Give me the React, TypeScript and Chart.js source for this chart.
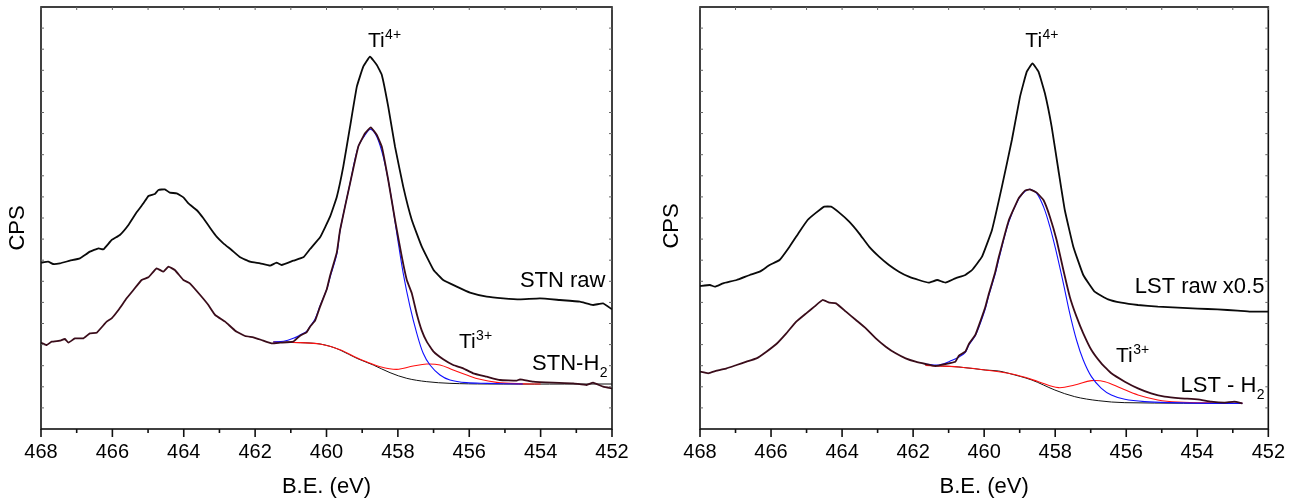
import React, { useEffect, useRef } from "react";
import { Chart, registerables } from "chart.js";

Chart.register(...registerables);

type Pt = [number, number];

// Binding energy axis (eV), reversed as in XPS
const X_MIN = 452;
const X_MAX = 468;
const X_TICK_STEP = 2;
// CPS axis (arbitrary counts, no labels)
const Y_MIN = 0;
const Y_MAX = 1266;
const Y_MINOR_DIVS = 20;

// ---------------- STN (left panel) ----------------
const STN_RAW: Pt[] = [
  [468.0, 499], [467.8, 502], [467.66, 495], [467.47, 497], [467.19, 505], [466.91, 512],
  [466.63, 532], [466.39, 542], [466.25, 539], [466.02, 567], [465.79, 582], [465.55, 612],
  [465.32, 650], [465.13, 677], [464.99, 699], [464.81, 705], [464.71, 717], [464.53, 719],
  [464.39, 709], [464.2, 707], [464.01, 695], [463.87, 677], [463.64, 657], [463.45, 632],
  [463.22, 597], [463.08, 577], [462.89, 557], [462.66, 537], [462.42, 515], [462.14, 502],
  [461.86, 497], [461.58, 490], [461.4, 499], [461.26, 492], [460.93, 505], [460.65, 515],
  [460.46, 540], [460.18, 575], [459.9, 637], [459.71, 697], [459.53, 787], [459.34, 907],
  [459.15, 1027], [458.97, 1087], [458.78, 1117], [458.59, 1092], [458.45, 1062], [458.27, 967],
  [458.08, 847], [457.85, 727], [457.61, 627], [457.33, 547], [457.0, 477], [456.73, 447],
  [456.35, 427], [455.98, 409], [455.51, 397], [455.05, 392], [454.58, 389], [454.02, 392],
  [453.46, 387], [452.9, 382], [452.53, 372], [452.25, 377], [452.0, 359],
];

const STN_H2: Pt[] = [
  [468.0, 259], [467.84, 252], [467.7, 262], [467.47, 265], [467.33, 270], [467.23, 259],
  [467.05, 272], [466.81, 272], [466.63, 287], [466.44, 289], [466.16, 322], [466.02, 332],
  [465.83, 357], [465.6, 392], [465.41, 417], [465.18, 447], [464.99, 455], [464.76, 482],
  [464.57, 472], [464.43, 487], [464.25, 477], [464.01, 447], [463.83, 437], [463.54, 402],
  [463.31, 372], [463.12, 342], [462.84, 322], [462.56, 295], [462.28, 279], [462.05, 275],
  [461.82, 267], [461.54, 257], [461.3, 259], [460.93, 262], [460.74, 280], [460.56, 290],
  [460.46, 307], [460.32, 325], [460.18, 367], [459.99, 420], [459.9, 460], [459.71, 530],
  [459.62, 597], [459.34, 737], [459.11, 847], [458.92, 887], [458.76, 905], [458.59, 882],
  [458.45, 847], [458.27, 747], [458.08, 627], [457.89, 517], [457.75, 447], [457.61, 407],
  [457.47, 345], [457.33, 295], [457.19, 262], [457.0, 232], [456.73, 209], [456.45, 192],
  [456.17, 182], [455.89, 167], [455.51, 157], [455.14, 147], [454.67, 145], [454.58, 149],
  [454.21, 142], [453.65, 139], [453.09, 137], [452.71, 132], [452.53, 139], [452.25, 127],
  [452.0, 122],
];

const STN_TI4_FIT: Pt[] = [
  [461.49, 261], [461.2, 263], [460.93, 272], [460.74, 282], [460.56, 293], [460.46, 308],
  [460.32, 330], [460.18, 370], [459.99, 420], [459.9, 455], [459.71, 525], [459.62, 595],
  [459.34, 737], [459.11, 847], [458.92, 882], [458.76, 899], [458.59, 877], [458.41, 817],
  [458.22, 717], [458.03, 587], [457.85, 467], [457.66, 367], [457.47, 287], [457.29, 227],
  [457.1, 192], [456.82, 162], [456.54, 147], [456.08, 139], [455.51, 137], [454.5, 135],
];

const STN_TI3_FIT: Pt[] = [
  [461.49, 261], [460.74, 259], [460.18, 255], [459.62, 238], [459.15, 214], [458.88, 202],
  [458.5, 187], [458.03, 179], [457.57, 189], [457.19, 195], [456.82, 192], [456.45, 177],
  [456.07, 162], [455.7, 149], [455.23, 140], [454.67, 136], [454.0, 135],
];

const STN_BACKGROUND: Pt[] = [
  [461.49, 261], [460.74, 259], [460.46, 258], [460.18, 255], [459.9, 248], [459.62, 237],
  [459.15, 212], [458.69, 192], [458.22, 169], [457.75, 152], [457.19, 142], [456.54, 137],
  [455.5, 135], [452.0, 135],
];

// ---------------- LST (right panel) ----------------
const LST_RAW_X05: Pt[] = [
  [468.0, 429], [467.72, 432], [467.58, 427], [467.35, 437], [466.97, 447], [466.6, 462],
  [466.32, 472], [466.04, 492], [465.76, 507], [465.48, 547], [465.2, 592], [464.97, 627],
  [464.73, 649], [464.5, 667], [464.31, 667], [464.08, 649], [463.8, 622], [463.52, 587],
  [463.24, 547], [462.96, 517], [462.68, 492], [462.4, 472], [462.12, 457], [461.84, 447],
  [461.56, 439], [461.32, 447], [461.09, 439], [460.81, 452], [460.53, 462], [460.34, 477],
  [460.06, 517], [459.78, 597], [459.5, 727], [459.22, 867], [458.99, 997], [458.8, 1072],
  [458.64, 1097], [458.47, 1072], [458.29, 1007], [458.1, 907], [457.91, 777], [457.73, 657],
  [457.49, 547], [457.21, 462], [456.89, 412], [456.51, 389], [456.14, 379], [455.67, 372],
  [455.11, 367], [454.55, 364], [453.99, 361], [453.43, 359], [452.87, 355], [452.5, 352],
  [452.0, 352],
];

const LST_H2: Pt[] = [
  [468.0, 172], [467.77, 167], [467.53, 175], [467.25, 182], [466.97, 192], [466.69, 202],
  [466.41, 212], [466.13, 232], [465.85, 255], [465.57, 287], [465.29, 322], [465.01, 347],
  [464.78, 367], [464.55, 387], [464.36, 379], [464.17, 377], [463.89, 352], [463.61, 327],
  [463.33, 302], [463.05, 272], [462.77, 247], [462.49, 227], [462.21, 212], [461.93, 202],
  [461.65, 195], [461.37, 189], [461.09, 195], [460.81, 202], [460.71, 220], [460.53, 232],
  [460.43, 255], [460.25, 282], [460.15, 310], [459.97, 365], [459.87, 405], [459.69, 470],
  [459.59, 515], [459.31, 625], [459.03, 692], [458.85, 715], [458.71, 719], [458.52, 709],
  [458.33, 687], [458.15, 637], [457.96, 567], [457.77, 477], [457.59, 397], [457.4, 337],
  [457.21, 287], [456.98, 237], [456.7, 197], [456.42, 167], [456.04, 142], [455.67, 122],
  [455.3, 107], [454.92, 97], [454.46, 92], [453.99, 89], [453.61, 82], [453.24, 79],
  [452.96, 82], [452.73, 77],
];

const LST_TI4_FIT: Pt[] = [
  [461.65, 195], [461.28, 192], [460.9, 206], [460.71, 216], [460.53, 230], [460.43, 252],
  [460.25, 280], [460.15, 305], [459.97, 360], [459.87, 400], [459.69, 465], [459.59, 508],
  [459.31, 620], [459.03, 690], [458.85, 713], [458.71, 719], [458.52, 707], [458.33, 667],
  [458.15, 607], [457.96, 527], [457.77, 437], [457.59, 347], [457.4, 267], [457.21, 207],
  [456.98, 157], [456.7, 122], [456.42, 102], [456.04, 89], [455.48, 82], [454.74, 79],
  [453.5, 77], [452.73, 77],
];

const LST_TI3_FIT: Pt[] = [
  [461.65, 191], [460.71, 186], [459.97, 177], [459.31, 167], [458.85, 155], [458.47, 142],
  [457.91, 124], [457.45, 132], [456.98, 145], [456.6, 142], [456.14, 122], [455.67, 102],
  [455.11, 87], [454.55, 81], [453.5, 78], [452.73, 77],
];

const LST_BACKGROUND: Pt[] = [
  [461.65, 191], [460.71, 186], [459.97, 177], [459.59, 174], [459.31, 167], [458.66, 147],
  [458.01, 117], [457.45, 97], [456.79, 85], [456.04, 79], [452.73, 77],
];

const FONT = "'Liberation Sans', Arial, Helvetica, sans-serif";

type Label = { text: string; sup?: string; sub?: string; x: number; y: number; size: number };

type PanelProps = {
  left: number;
  width: number;
  yAxisWidth: number;
  padRight: number;
  raw: Pt[];
  h2: Pt[];
  ti4: Pt[];
  ti3: Pt[];
  bg: Pt[];
  yTitlePos: { x: number; y: number };
  labels: Label[];
};

const toXY = (a: Pt[]) => a.map(([x, y]) => ({ x, y }));

const decorPlugin = {
  id: "decor",
  afterDatasetsDraw(chart: any, _args: any, opts: any) {
    const { ctx, chartArea: a, scales } = chart;
    const xs = scales.x;
    const ys = scales.y;
    ctx.save();
    // frame
    ctx.strokeStyle = "#111";
    ctx.lineWidth = 1.6;
    ctx.strokeRect(a.left, a.top, a.right - a.left, a.bottom - a.top);
    // x ticks: outward on bottom, tiny inward on top
    for (let v = X_MIN; v <= X_MAX; v += 1) {
      const px = xs.getPixelForValue(v);
      const major = (v - X_MIN) % X_TICK_STEP === 0;
      ctx.strokeStyle = "#111";
      ctx.lineWidth = 1.6;
      ctx.beginPath();
      ctx.moveTo(px, a.bottom);
      ctx.lineTo(px, a.bottom + (major ? 8 : 4));
      ctx.stroke();
      ctx.strokeStyle = "#666";
      ctx.lineWidth = 1;
      ctx.beginPath();
      ctx.moveTo(px, a.top);
      ctx.lineTo(px, a.top + 3);
      ctx.stroke();
    }
    // y minor ticks, inward on both sides
    ctx.strokeStyle = "#666";
    ctx.lineWidth = 1;
    for (let k = 1; k < Y_MINOR_DIVS; k++) {
      const py = ys.getPixelForValue(Y_MIN + (k * (Y_MAX - Y_MIN)) / Y_MINOR_DIVS);
      ctx.beginPath();
      ctx.moveTo(a.left, py);
      ctx.lineTo(a.left + 3, py);
      ctx.moveTo(a.right, py);
      ctx.lineTo(a.right - 3, py);
      ctx.stroke();
    }
    // y axis title
    ctx.fillStyle = "#000";
    ctx.font = `22px ${FONT}`;
    ctx.textAlign = "center";
    ctx.textBaseline = "middle";
    ctx.save();
    ctx.translate(opts.yTitle.x, opts.yTitle.y);
    ctx.rotate(-Math.PI / 2);
    ctx.fillText(opts.yTitle.text, 0, 0);
    ctx.restore();
    // annotations anchored in data coordinates
    ctx.textAlign = "left";
    ctx.textBaseline = "alphabetic";
    for (const l of opts.labels as Label[]) {
      const px = xs.getPixelForValue(l.x);
      const py = ys.getPixelForValue(l.y);
      ctx.font = `${l.size}px ${FONT}`;
      ctx.fillText(l.text, px, py);
      const w = ctx.measureText(l.text).width;
      ctx.font = `14px ${FONT}`;
      if (l.sup) ctx.fillText(l.sup, px + w + 0.5, py - 8);
      if (l.sub) ctx.fillText(l.sub, px + w + 0.5, py + 7);
    }
    ctx.restore();
  },
};

function XpsPanel(p: PanelProps) {
  const ref = useRef<HTMLCanvasElement | null>(null);
  useEffect(() => {
    if (!ref.current) return;
    const chart = new Chart(ref.current, {
      type: "line",
      data: {
        datasets: [
          { data: toXY(p.h2), borderColor: "#3a0c1a", borderWidth: 1.8, pointRadius: 0, tension: 0.1, order: 0 },
          { data: toXY(p.ti4), borderColor: "#1010ff", borderWidth: 1.1, pointRadius: 0, tension: 0.35, order: 1 },
          { data: toXY(p.ti3), borderColor: "#ff1010", borderWidth: 1.1, pointRadius: 0, tension: 0.35, order: 2 },
          { data: toXY(p.bg), borderColor: "#111", borderWidth: 1, pointRadius: 0, tension: 0.35, order: 3 },
          { data: toXY(p.raw), borderColor: "#0a0a0a", borderWidth: 1.8, pointRadius: 0, tension: 0.1, order: 4 },
        ],
      },
      options: {
        responsive: false,
        animation: false,
        events: [],
        layout: { padding: { left: 0, right: p.padRight, top: 7, bottom: 0 } },
        plugins: {
          legend: { display: false },
          tooltip: { enabled: false },
          decor: { yTitle: { text: "CPS", ...p.yTitlePos }, labels: p.labels },
        } as any,
        scales: {
          x: {
            type: "linear",
            reverse: true,
            min: X_MIN,
            max: X_MAX,
            grid: { display: false, drawTicks: false, tickLength: 0 },
            border: { display: false },
            ticks: {
              stepSize: X_TICK_STEP,
              padding: 11,
              color: "#000",
              font: { family: FONT, size: 20 },
              maxRotation: 0,
              autoSkip: false,
            },
            title: {
              display: true,
              text: "B.E. (eV)",
              color: "#000",
              font: { family: FONT, size: 22 },
              padding: { top: 0, bottom: 0 },
            },
            afterFit: (s: any) => {
              s.height = 71;
            },
          },
          y: {
            type: "linear",
            min: Y_MIN,
            max: Y_MAX,
            grid: { display: false, drawTicks: false },
            border: { display: false },
            ticks: { display: false },
            afterFit: (s: any) => {
              s.width = p.yAxisWidth;
            },
          },
        },
      },
      plugins: [decorPlugin],
    });
    return () => chart.destroy();
  }, []);
  return (
    <canvas
      ref={ref}
      width={p.width}
      height={500}
      style={{ position: "absolute", left: p.left, top: 0, width: p.width, height: 500 }}
    />
  );
}

export default function App() {
  return (
    <div style={{ position: "absolute", left: 0, top: 0, width: 1296, height: 500, background: "#fff" }}>
      <XpsPanel
        left={0}
        width={650}
        yAxisWidth={41}
        padRight={38}
        raw={STN_RAW}
        h2={STN_H2}
        ti4={STN_TI4_FIT}
        ti3={STN_TI3_FIT}
        bg={STN_BACKGROUND}
        yTitlePos={{ x: 18, y: 228 }}
        labels={[
          { text: "Ti", sup: "4+", x: 458.84, y: 1146, size: 21 },
          { text: "STN raw", x: 454.58, y: 426, size: 22 },
          { text: "Ti", sup: "3+", x: 456.29, y: 243, size: 21 },
          { text: "STN-H", sub: "2", x: 454.24, y: 177, size: 22 },
        ]}
      />
      <XpsPanel
        left={650}
        width={646}
        yAxisWidth={50}
        padRight={25}
        raw={LST_RAW_X05}
        h2={LST_H2}
        ti4={LST_TI4_FIT}
        ti3={LST_TI3_FIT}
        bg={LST_BACKGROUND}
        yTitlePos={{ x: 22, y: 226 }}
        labels={[
          { text: "Ti", sup: "4+", x: 458.84, y: 1146, size: 21 },
          { text: "LST raw x0.5", x: 455.76, y: 408, size: 22 },
          { text: "Ti", sup: "3+", x: 456.29, y: 201, size: 21 },
          { text: "LST - H", sub: "2", x: 454.47, y: 111, size: 22 },
        ]}
      />
    </div>
  );
}
